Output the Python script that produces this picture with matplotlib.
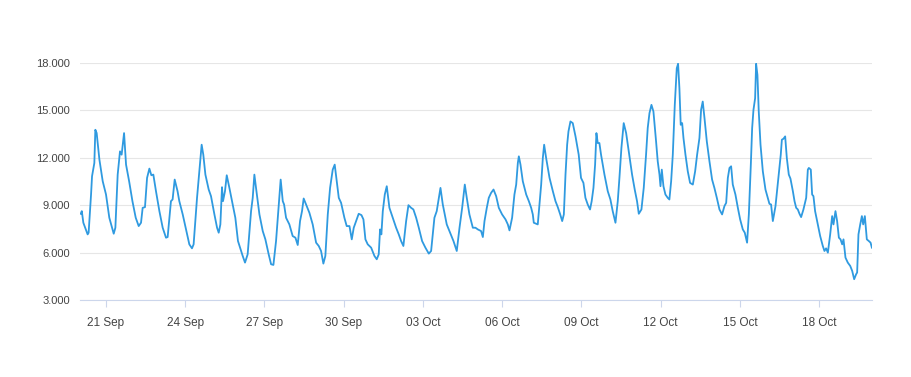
import matplotlib
matplotlib.use('Agg')
import matplotlib.pyplot as plt
import matplotlib.dates as mdates
from matplotlib.ticker import FuncFormatter
import pandas as pd

# hours after 20 Sep 00:00
hours = [
    1, 2, 3.4, 7.3, 8.2, 10.4, 11.3, 13.4, 14.3, 15.5, 18, 21, 24, 27, 31, 32.5, 34.6, 36.7, 38.2, 40.4,
    42.2, 45, 48, 51, 53.7, 55.8, 57.3, 59.4, 61.3, 63.4, 65.2, 67, 69.4, 72.5, 75.5, 78.5, 80, 83, 84.5, 86.4,
    89, 90.6, 93.7, 96.7, 99.7, 102.1, 103.6, 106.7, 108.8, 110.9, 112.4, 114.3, 117.3, 119.4, 122.5, 124.9,
    126.4, 127.9, 129.4, 130.3, 132.1, 133.7, 136.1, 139.1, 141.5, 143.9, 146.7, 148.2, 150.3, 152.7, 155.8,
    157.3, 158.8, 160.3, 163.4, 166.4, 168.8, 171.8, 174, 176.1, 178.5,
    182.7, 184.6, 185.8, 187.6, 190.6, 193.6, 196.1, 198.2, 200.3, 202.1, 203.6, 205.8, 208.8, 211.8, 214.9,
    217.3, 219.4, 221.5, 223.3, 225.5, 227.6, 230, 231.8, 233.6, 235.5, 237.6, 240.6, 242.7, 245.2, 247.3,
    249.1, 251.2, 253.6, 256.1, 257.9, 259.7, 261.8, 264.9, 267.9, 270,
    271.8, 273, 274.2, 275.5, 277.3, 279.1, 281.5, 284.6, 287.6, 290, 292.1, 294.2, 296.7, 298.8, 301.2,
    303.3, 305.8, 308.2, 311.2, 314.2, 317.3, 319.4, 322.4, 324.5, 326.4, 327.9, 330, 333.6, 336.7, 339.7,
    342.7, 345.2, 347.6, 350, 351.8, 354.2, 357.3, 359.7,
    361.8, 364.8, 366.4, 367.9, 370, 371.8, 373.9, 376.1, 378.5, 380.9, 383.9, 387, 389.1, 390.6, 393, 395.1,
    396.7, 398.2, 399.1, 400.6, 402.7, 405.8, 408.2, 410.3, 411.8, 412.7, 414.8, 416.3, 417.9, 419.4, 420.9,
    422.1, 423.9, 427, 430, 432.4, 434.5, 436.7, 438.5, 440, 441.5, 443, 444.2, 446, 448.1, 450.6,
    453.5, 455.6, 457.8, 459.6, 461.7, 463.8, 465.3, 466.9, 468.4, 469.6, 470.8, 472.3, 473.8, 476.9, 479.9,
    482.3, 484.4, 486.9, 489, 490.5, 492.3, 494.4, 496.6, 499, 502, 504.4, 506.5, 508.1, 510.5, 512.6, 514.7,
    516.2, 517.8, 519.6, 521.4, 523.8, 525.3, 526.9, 527.8, 529, 530.5, 532.3, 534.4, 535.9, 537.5, 539,
    540.8, 542.6,
    543.8, 545, 546.2, 547.5, 548.7, 550.5, 552.6, 554.7, 557.2, 559.3, 561.1, 563.2, 564.7, 566.2, 567.8,
    569.9, 572.3, 574.7, 576.8, 579, 581.4, 583.8, 585.9, 587.5, 589, 590.5, 592, 593.5, 595.9, 598.1, 600.2,
    602.6, 604.4, 606.5, 608.1, 609.9, 611.1, 612.3, 613.8, 614.7, 615.9, 617.1, 618.7, 620.8, 623.2, 625.3,
    626.8, 628.3, 629.9, 632.3,
    635.3, 637.1, 638.1, 639.6, 641.1, 642.6, 644.4, 645.9, 648.1, 649.6, 651.1, 652.6, 654.1, 655.6, 657.7,
    660.2, 661.7, 662.6, 664.4, 665.6, 666.8, 668.3, 670.8, 672.9, 675.3, 676.8, 678.3, 679.9, 682, 683.8,
    685, 686.8, 688.3, 689.9, 691.4, 692.9, 694.1, 695.9, 698, 700.2, 702, 703.8, 705.6, 706.5, 707.7, 709.3,
    710.8, 712, 713.5, 715.3, 717.1, 718.7, 719.9,
]
values = [
    8457, 8625, 7890, 7153, 7260, 9676, 10832, 11673, 13775, 13565, 11883, 10517, 9676, 8205, 7196, 7574, 10937, 12408, 12198, 13565,
    11568, 10517, 9256, 8205, 7679, 7890, 8835, 8877, 10727, 11316, 10895, 10937, 9886, 8625, 7574, 6943, 6985, 9256, 9361, 10622,
    9886, 9256, 8415, 7469, 6523, 6271, 6523, 9466, 11148, 12829, 12198, 10937, 9992, 9571, 8415, 7574,
    7259, 7784, 10139, 9256, 9886, 10895, 10096, 9045, 8205, 6733, 6102, 5787, 5367, 5892, 8625,
    9466, 10937, 10096, 8415, 7364, 6838, 5892, 5262, 5220, 6733,
    10622, 9256, 9045, 8205, 7784, 7048, 6943, 6481, 7995, 8625, 9424, 9045, 8520, 7784, 6628,
    6418, 6102, 5304, 5787, 8415, 10096, 11252, 11568, 10517, 9466, 9151, 8205, 7679, 7679, 6838,
    7574, 7995, 8457, 8373, 8100, 6838, 6523, 6313, 5787, 5577,
    5892, 7469, 7153, 8625, 9676, 10201, 8835, 8205, 7574, 7153, 6733, 6418, 7995, 9003, 8835,
    8730, 8205, 7574, 6733, 6313, 5934, 6102, 8205, 8625, 9466, 10096, 9045, 7784, 7259, 6733,
    6102, 7574, 8835, 10306, 9466, 8415, 7574, 7574,
    7469, 7364, 6985, 7995, 8835, 9466, 9781, 9992, 9571, 8835, 8415, 8100, 7784, 7406, 8205, 9676,
    10306, 11673, 12093, 11568, 10517, 9676, 9256, 8835, 8415, 7890, 7826, 7784, 9045, 10306, 11988,
    12829, 11988, 10727, 9886, 9256, 8877, 8415, 7995, 8415, 10937, 12829, 13670, 14300, 14195, 13355,
    12198, 10727, 10412, 9466, 9045, 8730, 9256, 10096, 11568, 13565, 12934, 12934, 12198, 10937, 9886,
    9361, 8625, 7890, 9256, 10727, 12619, 14195, 13565, 12408, 10937, 9992, 9256, 8457, 8730, 10096, 12198,
    13880, 14826, 15351, 14931, 13040, 11778, 10937, 10201, 11252, 10201, 9676, 9466, 9361, 10517, 12198,
    15351, 17664,
    17950, 16402, 14090, 14195, 13249, 12198, 11148, 10412, 10306, 11148, 12198, 13249, 15036, 15561, 14510,
    13040, 11778, 10622, 10096, 9466, 8730, 8415, 8940, 9151, 10727, 11358, 11463, 10306, 9676, 8835, 8100,
    7469, 7259, 6628, 8415, 11568, 13880, 15036, 15771, 17950, 17243, 14931, 12829, 11148, 9992, 9466,
    9087, 9045, 7995, 8940,
    10937, 12198, 13145, 13207, 13355, 11988, 10937, 10685, 9886, 9256, 8835, 8730, 8457, 8247, 8730,
    9466, 11252, 11358, 11252, 9676, 9571, 8625, 7784, 7048, 6418, 6102, 6270, 5997, 7153, 8310,
    7784, 8625, 7995, 6943, 6838, 6523, 6838, 5682, 5367, 5157, 4842, 4316, 4632, 4740, 7153, 7784,
    8310, 7784, 8310, 6838, 6733, 6628, 6313,
]
y_ticks = [3000, 6000, 9000, 12000, 15000, 18000]
x_ticks = pd.date_range('2023-09-21', periods=10, freq='3D')

start = pd.Timestamp('2023-09-20')
times = start + pd.to_timedelta(hours, unit='h')

plt.rcParams['font.family'] = ['Liberation Sans', 'DejaVu Sans']

fig = plt.figure(figsize=(9.12, 3.77), dpi=100)
ax = fig.add_axes([79.6 / 912, 77 / 377, 792.4 / 912, 237 / 377])

ax.plot(times, values, color='#2f9ae0', linewidth=1.3, zorder=3)

ax.set_xlim(start, start + pd.Timedelta(days=30))
ax.set_ylim(3000, 18000)
ax.set_yticks(y_ticks)
ax.yaxis.set_major_formatter(FuncFormatter(lambda v, p: '{:,.0f}'.format(v).replace(',', '.')))
ax.set_xticks(x_ticks)
ax.xaxis.set_major_formatter(mdates.DateFormatter('%d %b'))

ax.grid(axis='y', color='#e6e6e6', linewidth=0.8)
ax.set_axisbelow(True)
for s in ['top', 'right', 'left']:
    ax.spines[s].set_visible(False)
ax.spines['bottom'].set_color('#ccd6eb')
ax.spines['bottom'].set_linewidth(0.8)

ax.tick_params(axis='y', length=0, pad=7, labelsize=8, labelcolor='#444444')
ax.tick_params(axis='x', length=5, width=0.8, color='#ccd6eb', pad=7, labelsize=8.5, labelcolor='#444444')

fig.savefig('out.png', dpi=100)
